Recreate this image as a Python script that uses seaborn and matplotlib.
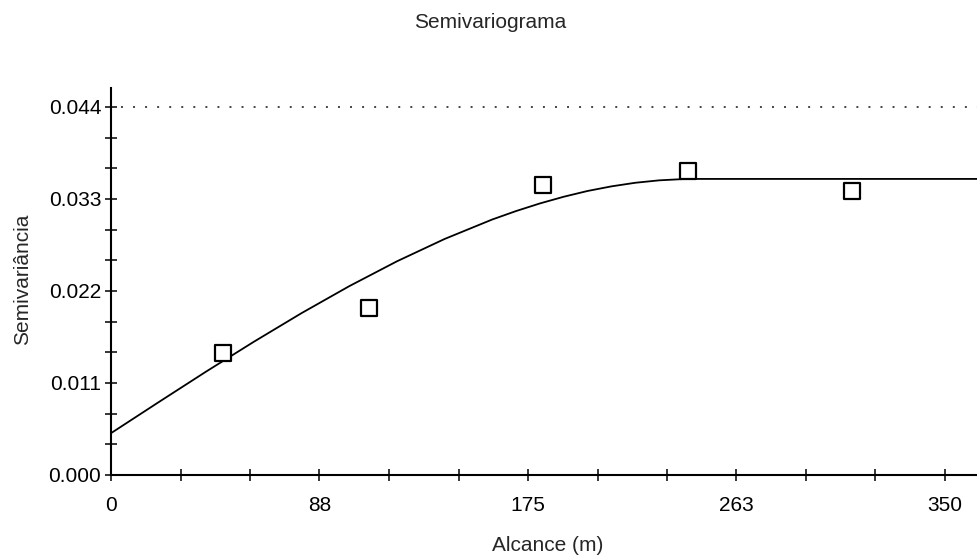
import matplotlib
matplotlib.use("Agg")
import matplotlib.pyplot as plt
import seaborn as sns
import pandas as pd
from matplotlib.ticker import FixedLocator, MultipleLocator

lag = [47.1, 108.4, 181.5, 242.0, 310.9]
semivar = [0.01455, 0.01991, 0.0347, 0.03637, 0.03399]

# Fitted model curve
curve_x = [0, 20, 40, 60, 80, 100, 120, 140, 160, 170, 180, 190, 200, 210,
           220, 230, 240, 245, 364]
curve_y = [0.0050, 0.00871, 0.01238, 0.01594, 0.01936, 0.02258, 0.02555,
           0.02822, 0.03055, 0.03156, 0.03247, 0.03327, 0.03396, 0.03451,
           0.03494, 0.03523, 0.03538, 0.0354, 0.0354]

sill_line = 0.044
x_ticks = [0, 87.5, 175, 262.5, 350]
x_labels = ["0", "88", "175", "263", "350"]
y_ticks = [0.000, 0.011, 0.022, 0.033, 0.044]
y_labels = ["0.000", "0.011", "0.022", "0.033", "0.044"]

title = "Semivariograma"
xlabel = "Alcance (m)"
ylabel = "Semivariância"

sns.set_style("ticks")
plt.rcParams['font.family'] = ['Liberation Sans', 'DejaVu Sans']

FS = 15
W, H = 978, 556
fig = plt.figure(figsize=(W / 100, H / 100), dpi=100)
left, right, bottom_px, top_px = 111, 978, 475, 88
px_per_y = 368 / 0.044
px_per_x = 834 / 350
ax = fig.add_axes([left / W, 1 - bottom_px / H, (right - left) / W, (bottom_px - top_px) / H])

df_pts = pd.DataFrame({"lag": lag, "semivar": semivar})
df_curve = pd.DataFrame({"x": curve_x, "y": curve_y})

sns.lineplot(data=df_curve, x="x", y="y", ax=ax, color="black", linewidth=1.3, zorder=2)
ax.axhline(sill_line, xmin=10 / (right - left), color="#444444", linewidth=1.4,
           linestyle=(0, (1, 5.2)), zorder=1)
sns.scatterplot(data=df_pts, x="lag", y="semivar", ax=ax, marker="s", s=130,
                facecolor="white", edgecolor="black", linewidth=1.6, zorder=3)

ax.set_xlim(0, (right - left) / px_per_x)
ax.set_ylim(0, (bottom_px - top_px) / px_per_y)

ax.xaxis.set_major_locator(FixedLocator(x_ticks))
ax.set_xticklabels(x_labels)
ax.xaxis.set_minor_locator(MultipleLocator(87.5 / 3))
ax.yaxis.set_major_locator(FixedLocator(y_ticks))
ax.set_yticklabels(y_labels)
ax.yaxis.set_minor_locator(MultipleLocator(0.011 / 3))

ax.tick_params(axis="both", which="both", direction="inout", length=8, width=1.1,
               color="black", labelsize=FS, labelcolor="black")
ax.tick_params(axis="x", which="major", pad=11)
ax.tick_params(axis="y", which="major", pad=3)

sns.despine(ax=ax, right=True, top=True)
for sp in ["left", "bottom"]:
    ax.spines[sp].set_linewidth(1.5)
    ax.spines[sp].set_color("black")

ax.set_xlabel("")
ax.set_ylabel("")
fig.text(548 / W, 1 - 551 / H, xlabel, ha="center", va="baseline", fontsize=FS)
fig.text(23 / W, 1 - 279 / H, ylabel, ha="center", va="center", rotation=90, fontsize=FS)
fig.text(490 / W, 1 - 28 / H, title, ha="center", va="baseline", fontsize=FS)

fig.savefig("out.png", dpi=100)
